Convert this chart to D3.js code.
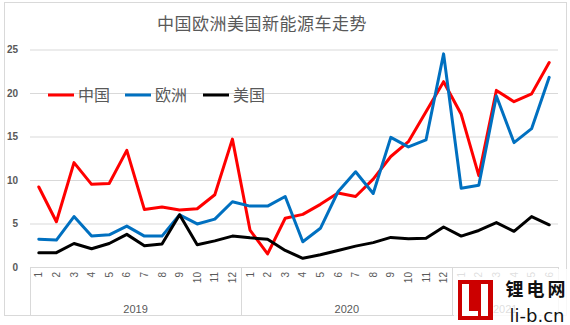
<!DOCTYPE html>
<html><head><meta charset="utf-8">
<script src="https://cdn.jsdelivr.net/npm/d3@7"></script>
<style>body{margin:0;background:#fff}svg{display:block}</style>
</head><body>
<svg id="c" width="570" height="325"></svg>
<script>
const yearLabels = ["2019","2020","2021"];
const monthLabels = ["1","2","3","4","5","6","7","8","9","10","11","12",
  "1","2","3","4","5","6","7","8","9","10","11","12",
  "1","2","3","4","5","6"];
const yearOf = [0,0,0,0,0,0,0,0,0,0,0,0, 1,1,1,1,1,1,1,1,1,1,1,1, 2,2,2,2,2,2];
const seriesNames = ["中国","欧洲","美国"];
const china = [9.2,5.2,12.0,9.5,9.6,13.4,6.6,6.9,6.55,6.7,8.3,14.7,
  4.25,1.5,5.6,6.05,7.2,8.5,8.1,10.1,12.7,14.4,17.85,21.3,
  17.55,10.5,20.3,19.0,19.9,23.5];
const europe = [3.2,3.1,5.8,3.55,3.7,4.7,3.55,3.55,6.0,4.95,5.5,7.5,
  7.0,7.0,8.1,2.9,4.45,8.65,10.95,8.45,14.9,13.8,14.6,24.5,
  9.05,9.4,19.65,14.3,15.9,21.8];
const usa = [1.65,1.65,2.7,2.1,2.7,3.75,2.45,2.65,6.0,2.55,3.0,3.55,
  3.35,3.2,1.9,1.0,1.4,1.9,2.4,2.8,3.4,3.25,3.3,4.6,
  3.55,4.2,5.1,4.1,5.8,4.85];
const yTicks = [0,5,10,15,20,25];
const colors = ["#ff0000","#0070c0","#000000"];

const svg = d3.select("#c");
const L = 30, R = 558, T = 49.5, B = 267;
const idx = d3.range(monthLabels.length);
const x = d3.scaleBand().domain(idx).range([L, R]);
const y = d3.scaleLinear().domain([0, 25]).range([B, T]);
const gray = "#595959", gridC = "#d9d9d9";
const numFont = "'Liberation Sans', Arial, sans-serif";
const cjk = "'Noto Sans CJK SC', sans-serif";

// outer border
svg.append("rect").attr("x",4.5).attr("y",2.5).attr("width",562).attr("height",313)
  .attr("fill","#fff").attr("stroke","#d9d9d9");

// title
svg.append("text").attr("x",262).attr("y",30).attr("text-anchor","middle")
  .attr("font-family",cjk).attr("font-size",17).attr("letter-spacing",0.5).attr("fill",gray)
  .text("中国欧洲美国新能源车走势");

// grid + y axis labels
const yAxis = d3.axisLeft(y).tickValues(yTicks).tickSize(-(R-L)).tickFormat(d3.format("d"));
const gy = svg.append("g").attr("transform",`translate(${L},0)`).call(yAxis);
gy.select(".domain").remove();
gy.selectAll(".tick line").attr("stroke",gridC).attr("stroke-width",1);
gy.selectAll(".tick text").attr("x",-12).attr("fill",gray)
  .attr("font-family",numFont).attr("font-size",10).attr("font-weight","bold");

// x axis category box
const xAxis = d3.axisBottom(x).tickSize(0).tickFormat(i => monthLabels[i]);
const gx = svg.append("g").attr("transform",`translate(0,${B})`).call(xAxis);
gx.select(".domain").attr("stroke",gridC);
gx.selectAll(".tick text").attr("transform","rotate(-90)").attr("text-anchor","end")
  .attr("x",-5).attr("y",0).attr("dy","0.35em").attr("fill",gray)
  .attr("font-family",numFont).attr("font-size",10);

// group separators & year labels
const groups = yearLabels.map((yl, g) => {
  const ids = idx.filter(i => yearOf[i] === g);
  return {label: yl, x0: x(ids[0]), x1: x(ids[ids.length-1]) + x.bandwidth()};
});
const seps = [L, ...groups.map(g => g.x1)];
svg.selectAll(".sep").data(seps).join("line").attr("class","sep")
  .attr("x1",d=>Math.round(d)+0.5).attr("x2",d=>Math.round(d)+0.5)
  .attr("y1",B).attr("y2",315.5).attr("stroke",gridC);
svg.selectAll(".yr").data(groups).join("text").attr("class","yr")
  .attr("x",d=>(d.x0+d.x1)/2).attr("y",313).attr("text-anchor","middle")
  .attr("fill",gray).attr("font-family",numFont).attr("font-size",11)
  .text(d=>d.label);

// lines
const allSeries = [china, europe, usa];
const line = d3.line().x((d,i)=>x(i)+x.bandwidth()/2).y(d=>y(d));
svg.selectAll(".ser").data(allSeries).join("path").attr("class","ser")
  .attr("d",d=>line(d)).attr("fill","none")
  .attr("stroke",(d,i)=>colors[i]).attr("stroke-width",3)
  .attr("stroke-linejoin","round").attr("stroke-linecap","round");

// legend
const legX = [48, 125, 203];
const lg = svg.selectAll(".leg").data(seriesNames).join("g").attr("class","leg")
  .attr("transform",(d,i)=>`translate(${legX[i]},95)`);
lg.append("line").attr("x1",0).attr("x2",26).attr("y1",0).attr("y2",0)
  .attr("stroke",(d,i)=>colors[i]).attr("stroke-width",3);
lg.append("text").attr("x",30).attr("y",0).attr("dy","0.36em")
  .attr("font-family",cjk).attr("font-size",16).attr("fill",gray).text(d=>d);

// watermark
const wm = svg.append("g");
wm.append("rect").attr("x",454).attr("y",269).attr("width",116).attr("height",56)
  .attr("fill","#fff").attr("opacity",0.8);
wm.append("rect").attr("x",458).attr("y",280).attr("width",35).attr("height",40).attr("fill","#cc0000");
wm.append("path").attr("d","M462,284 h7 v27 h9 v5 h-16 z M481,284 h7 v32 h-7 z").attr("fill","#fff");
wm.append("text").attr("x",537).attr("y",296).attr("text-anchor","middle")
  .attr("font-family",cjk).attr("font-size",18).attr("font-weight","bold").attr("letter-spacing",3).attr("fill","#111")
  .text("锂电网");
wm.append("text").attr("x",537).attr("y",322).attr("text-anchor","middle")
  .attr("font-family","'DejaVu Sans', sans-serif").attr("font-size",18).attr("fill","#111")
  .text("li-b.cn");
</script>
</body></html>
